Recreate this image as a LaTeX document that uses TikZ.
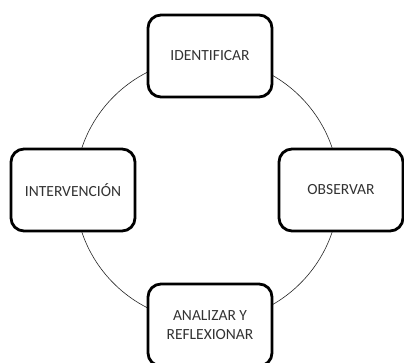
\documentclass[tikz,border=0pt]{standalone}
\usepackage{fontspec}
\setmainfont{Carlito}
\begin{document}
\begin{tikzpicture}[x=1pt,y=-1pt,
  stage/.style={draw=black,line width=2.8pt,rounded corners=13pt,fill=white,
    minimum width=124pt,minimum height=82pt,align=center,font=\fontsize{15.5}{18.5}\selectfont,text=black!80}]
\useasboundingbox (0,0) rectangle (404,363);
\coordinate (c) at (207,190);
\draw[line width=0.6pt,black!85] (c) circle[radius=132];
\node[stage] (ident) at (210,56) {IDENTIFICAR};
\node[stage] (obs) at (341,190) {OBSERVAR};
\node[stage] (interv) at (73,190) {INTERVENCIÓN};
\node[stage] (anal) at (210,325) {ANALIZAR Y\\REFLEXIONAR};
\end{tikzpicture}
\end{document}
